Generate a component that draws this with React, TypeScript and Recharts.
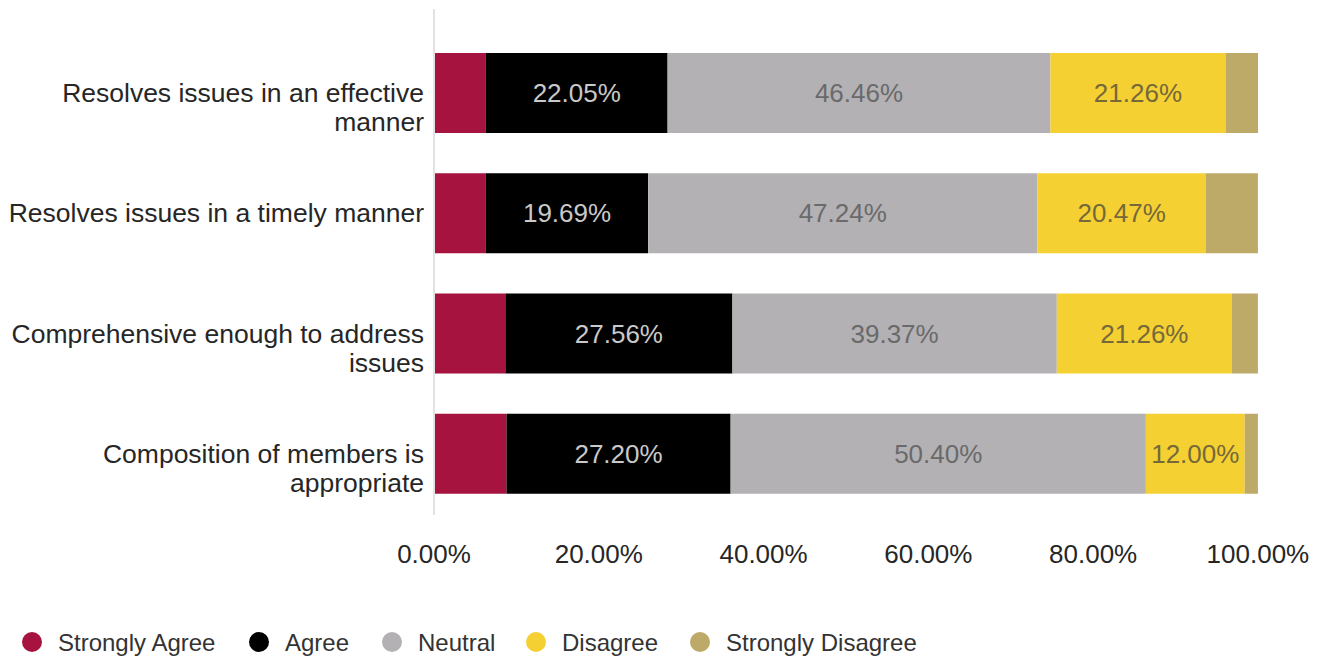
import { BarChart, Bar, XAxis, YAxis, LabelList, Legend } from 'recharts';

const categories = [
	'Resolves issues in an effective\nmanner',
	'Resolves issues in a timely manner',
	'Comprehensive enough to address\nissues',
	'Composition of members is\nappropriate',
];

const stronglyAgree = [6.3, 6.3, 8.66, 8.8];
const agree = [22.05, 19.69, 27.56, 27.2];
const neutral = [46.46, 47.24, 39.37, 50.4];
const disagree = [21.26, 20.47, 21.26, 12.0];
const stronglyDisagree = [3.94, 6.3, 3.15, 1.6];

const xTicks = [0, 20, 40, 60, 80, 100];

const series = [
	{ key: 'sa', name: 'Strongly Agree', color: '#A6133F', label: null },
	{ key: 'a', name: 'Agree', color: '#000000', label: '#c9c9c9' },
	{ key: 'n', name: 'Neutral', color: '#B3B1B4', label: '#6a6a6a' },
	{ key: 'd', name: 'Disagree', color: '#F5D033', label: '#75693a' },
	{ key: 'sd', name: 'Strongly Disagree', color: '#BDAA69', label: null },
];

const data = categories.map((name, i) => ({
	name,
	sa: stronglyAgree[i],
	a: agree[i],
	n: neutral[i],
	d: disagree[i],
	sd: stronglyDisagree[i],
}));

const FONT = '"Liberation Sans", Arial, sans-serif';

const CategoryTick = (props: any) => {
	const { x, y, payload } = props;
	const lines = String(payload.value).split('\n');
	return (
		<g>
			{lines.map((line: string, i: number) => (
				<text
					key={i}
					x={x}
					y={y + i * 29}
					textAnchor="end"
					dominantBaseline="central"
					fontSize={26.5}
					fontFamily={FONT}
					fill="#262626"
				>
					{line}
				</text>
			))}
		</g>
	);
};

const LegendContent = () => {
	const xs = [32, 259, 392, 536, 700];
	return (
		<svg width={1321} height={60} style={{ display: 'block' }}>
			{series.map((s, i) => (
				<g key={s.key}>
					<circle cx={xs[i]} cy={44} r={10} fill={s.color} />
					<text
						x={xs[i] + 26}
						y={44}
						dominantBaseline="central"
						fontSize={24}
						fontFamily={FONT}
						fill="#333333"
					>
						{s.name}
					</text>
				</g>
			))}
		</svg>
	);
};

const App = () => {
	return (
		<div style={{ position: 'absolute', left: 0, top: 0, background: '#fff' }}>
			<BarChart
				width={1321}
				height={658}
				data={data}
				layout="vertical"
				margin={{ top: 9, right: 63, left: 0, bottom: 0 }}
				barSize={80}
			>
				<XAxis
					type="number"
					domain={[0, 100]}
					ticks={xTicks}
					tickFormatter={(v: number) => `${v.toFixed(2)}%`}
					axisLine={false}
					tickLine={false}
					tickSize={0}
					tickMargin={30}
					height={83}
					interval={0}
					tick={{ fontSize: 26, fontFamily: FONT, fill: '#262626' }}
				/>
				<YAxis
					type="category"
					dataKey="name"
					width={434}
					tickLine={false}
					tickSize={0}
					tickMargin={10}
					axisLine={{ stroke: '#e3e3e3', strokeWidth: 2 }}
					padding={{ top: 24, bottom: 1 }}
					tick={<CategoryTick />}
					interval={0}
				/>
				<Legend
					verticalAlign="bottom"
					height={60}
					wrapperStyle={{ height: 60 }}
					content={<LegendContent />}
				/>
				{series.map((s) => (
					<Bar
						key={s.key}
						dataKey={s.key}
						name={s.name}
						stackId="stack"
						fill={s.color}
						isAnimationActive={false}
					>
						{s.label && (
							<LabelList
								dataKey={s.key}
								position="center"
								formatter={(v: any) => `${Number(v).toFixed(2)}%`}
								fill={s.label}
								fontSize={26}
								fontFamily={FONT}
							/>
						)}
					</Bar>
				))}
			</BarChart>
		</div>
	);
};

export default App;
